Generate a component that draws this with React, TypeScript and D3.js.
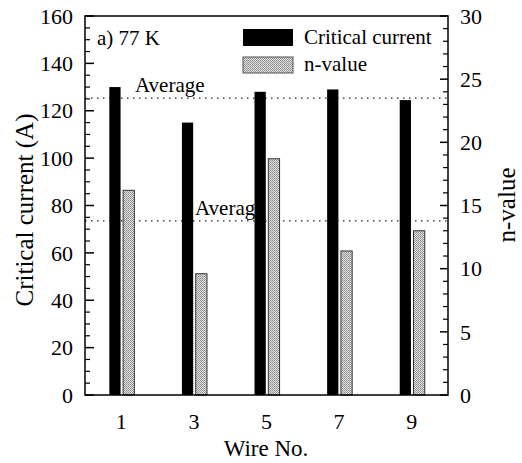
import React from "react";
import * as d3 from "d3";

// Wire numbers and measured values at 77 K
const wires = [1, 3, 5, 7, 9];
const criticalCurrent = [130, 115, 128, 129, 124.5];
const nValue = [16.2, 9.6, 18.7, 11.4, 13.0];
const leftTicks = [0, 20, 40, 60, 80, 100, 120, 140, 160];
const rightTicks = [0, 5, 10, 15, 20, 25, 30];
const legendLabels = ["Critical current", "n-value"];

const W = 522;
const H = 463;
const margin = { left: 85, right: 74, top: 16, bottom: 68 };
const FONT = "Liberation Serif";

export default function App() {
  const x0 = margin.left;
  const x1 = W - margin.right;
  const y0 = H - margin.bottom;
  const y1 = margin.top;

  const x = d3.scaleLinear().domain([0, 10]).range([x0, x1]);
  const yL = d3.scaleLinear().domain([0, 160]).range([y0, y1]);
  const yR = d3.scaleLinear().domain([0, 30]).range([y0, y1]);

  const avgIc = d3.mean(criticalCurrent) as number;
  const avgN = d3.mean(nValue) as number;

  const leftMinor = d3.range(0, 161, 5).filter((v) => v % 20 !== 0);
  const rightMinor = d3.range(0, 31, 1).filter((v) => v % 5 !== 0);

  const bw = x(0.31) - x(0);
  const ts = { fontFamily: FONT, fontSize: 21 } as React.CSSProperties;
  const tick = { fontFamily: FONT, fontSize: 22 } as React.CSSProperties;
  const title = { fontFamily: FONT, fontSize: 25 } as React.CSSProperties;

  return (
    <svg
      width={W}
      height={H}
      style={{ position: "absolute", left: 0, top: 0, background: "#fff", fontFamily: FONT }}
    >
      <defs>
        <pattern id="stipple" width="2" height="2" patternUnits="userSpaceOnUse">
          <rect width="2" height="2" fill="#e2e2e2" />
          <rect width="1" height="1" fill="#8a8a8a" />
          <rect x="1" y="1" width="1" height="1" fill="#9a9a9a" />
        </pattern>
      </defs>

      {/* average lines and labels, drawn beneath the bars */}
      <line
        x1={x0}
        x2={x1}
        y1={yL(avgIc)}
        y2={yL(avgIc)}
        stroke="#222"
        strokeWidth={1.3}
        strokeDasharray="1.5 4.5"
      />
      <text x={135} y={yL(avgIc) - 6} style={ts}>
        Average
      </text>
      <line
        x1={x0}
        x2={x1}
        y1={yR(avgN)}
        y2={yR(avgN)}
        stroke="#222"
        strokeWidth={1.3}
        strokeDasharray="1.5 4.5"
      />
      <text x={195} y={yR(avgN) - 6} style={ts}>
        Average
      </text>

      {/* bars */}
      {wires.map((w, i) => (
        <g key={w}>
          <rect
            x={x(w - 0.33)}
            y={yL(criticalCurrent[i])}
            width={bw}
            height={y0 - yL(criticalCurrent[i])}
            fill="#000"
          />
          <rect
            x={x(w + 0.05)}
            y={yR(nValue[i])}
            width={bw}
            height={y0 - yR(nValue[i])}
            fill="url(#stipple)"
            stroke="#333"
            strokeWidth={1}
          />
        </g>
      ))}

      {/* frame */}
      <rect
        x={x0}
        y={y1}
        width={x1 - x0}
        height={y0 - y1}
        fill="none"
        stroke="#000"
        strokeWidth={1.5}
      />

      {/* left axis ticks */}
      {leftTicks.map((t) => (
        <g key={"l" + t}>
          <line x1={x0} x2={x0 + 9} y1={yL(t)} y2={yL(t)} stroke="#000" strokeWidth={1.5} />
          <text x={x0 - 12} y={yL(t)} dy="0.35em" textAnchor="end" style={tick}>
            {t}
          </text>
        </g>
      ))}
      {leftMinor.map((t) => (
        <line key={"lm" + t} x1={x0} x2={x0 + 5} y1={yL(t)} y2={yL(t)} stroke="#000" strokeWidth={1.2} />
      ))}

      {/* right axis ticks */}
      {rightTicks.map((t) => (
        <g key={"r" + t}>
          <line x1={x1} x2={x1 - 8} y1={yR(t)} y2={yR(t)} stroke="#000" strokeWidth={1.5} />
          <text x={x1 + 12} y={yR(t)} dy="0.35em" textAnchor="start" style={tick}>
            {t}
          </text>
        </g>
      ))}
      {rightMinor.map((t) => (
        <line key={"rm" + t} x1={x1} x2={x1 - 5} y1={yR(t)} y2={yR(t)} stroke="#000" strokeWidth={1.2} />
      ))}

      {/* x tick labels */}
      {wires.map((w) => (
        <text key={"x" + w} x={x(w)} y={429} textAnchor="middle" style={tick}>
          {w}
        </text>
      ))}

      {/* axis titles */}
      <text x={266} y={456} textAnchor="middle" style={{ fontFamily: FONT, fontSize: 23 }}>
        Wire No.
      </text>
      <text transform="translate(33, 210) rotate(-90)" textAnchor="middle" style={title}>
        Critical current (A)
      </text>
      <text transform="translate(515, 205) rotate(-90)" textAnchor="middle" style={title}>
        n-value
      </text>

      {/* panel label */}
      <text x={97} y={45} style={ts}>
        a) 77 K
      </text>

      {/* legend */}
      <rect x={243} y={29} width={50} height={17} fill="#000" />
      <text x={304} y={44} style={ts}>
        {legendLabels[0]}
      </text>
      <rect x={243} y={57} width={50} height={16} fill="url(#stipple)" stroke="#555" strokeWidth={1} />
      <text x={304} y={71} style={ts}>
        {legendLabels[1]}
      </text>
    </svg>
  );
}
